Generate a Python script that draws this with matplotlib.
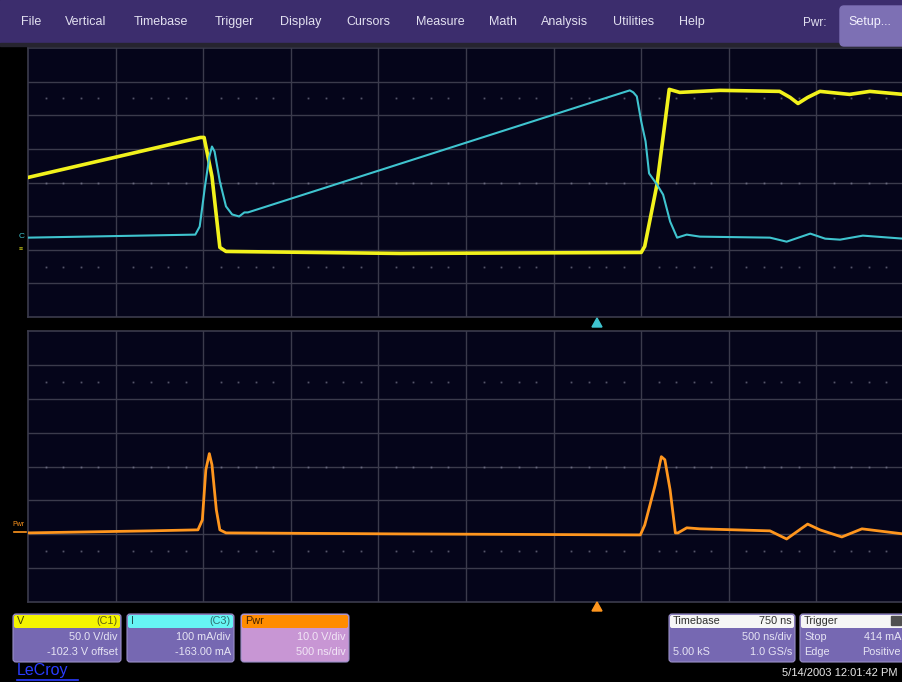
import matplotlib
matplotlib.use("Agg")
import matplotlib.pyplot as plt
from matplotlib.patches import FancyBboxPatch, Rectangle, Polygon

plt.rcParams['font.family'] = ['Liberation Sans', 'DejaVu Sans']

# ---------------- data (time and amplitude in screen divisions) ----------------
# C1 voltage trace (yellow), 50 V/div
v_t   = [0.00, 1.97, 2.01, 2.10, 2.19, 2.26, 4.25, 7.00, 7.04, 7.18, 7.32, 7.44,
         7.90, 8.58, 8.70, 8.79, 8.90, 9.04, 9.38, 9.61, 9.99]
v_div = [0.15, 1.34, 1.34, 0.18, -1.93, -2.05, -2.11, -2.08, -1.90, -0.06, 2.77, 2.68,
         2.74, 2.71, 2.53, 2.35, 2.53, 2.71, 2.62, 2.71, 2.62]

# C3 current trace (cyan), 100 mA/div
i_t   = [0.00, 1.91, 1.96, 2.02, 2.07, 2.10, 2.13, 2.19, 2.26, 2.33, 2.41, 2.47, 2.51,
         6.76, 6.87, 6.91, 6.95, 7.00, 7.05, 7.09, 7.18, 7.25, 7.33, 7.41, 7.52, 7.67,
         8.47, 8.66, 8.93, 9.10, 9.27, 9.53, 9.99]
i_div = [-1.64, -1.55, -1.31, -0.12, 0.77, 1.07, 0.92, 0.03, -0.71, -0.95, -1.01, -0.89, -0.89,
         2.65, 2.74, 2.68, 2.56, 1.82, 1.22, 0.27, -0.06, -0.36, -1.16, -1.64, -1.55, -1.61,
         -1.64, -1.76, -1.52, -1.67, -1.70, -1.58, -1.67]

# Pwr math trace (orange), 10.0 V/div
p_t   = [0.00, 1.39, 1.94, 1.99, 2.03, 2.07, 2.10, 2.15, 2.19, 2.26, 4.25, 6.99, 7.04,
         7.16, 7.23, 7.27, 7.33, 7.39, 7.42, 7.52, 7.67, 8.47, 8.66, 8.90, 9.04, 9.29,
         9.52, 9.99]
p_div = [-1.96, -1.90, -1.87, -1.58, -0.10, 0.38, 0.05, -1.28, -1.87, -1.96, -1.99, -2.02, -1.73,
         -0.54, 0.29, 0.20, -0.69, -1.96, -1.96, -1.81, -1.84, -1.90, -2.14, -1.70, -1.87, -2.08,
         -1.84, -1.99]

menu_labels = ["File", "Vertical", "Timebase", "Trigger", "Display", "Cursors",
               "Measure", "Math", "Analysis", "Utilities", "Help"]
c1_lines = ["V", "(C1)", "50.0 V/div", "-102.3 V offset"]
c3_lines = ["I", "(C3)", "100 mA/div", "-163.00 mA"]
pwr_lines = ["Pwr", "10.0 V/div", "500 ns/div"]
tb_lines = ["Timebase", "750 ns", "500 ns/div", "5.00 kS", "1.0 GS/s"]
trig_lines = ["Trigger", "Stop", "414 mA", "Edge", "Positive"]
date_text = "5/14/2003 12:01:42 PM"

# ---------------- layout ----------------
W, H = 903, 682
fig = plt.figure(figsize=(W / 100, H / 100), dpi=100, facecolor='black')

def px_axes(x0, y0, x1, y1):
    return fig.add_axes([x0 / W, 1 - y1 / H, (x1 - x0) / W, (y1 - y0) / H])

BG = '#05051a'
GRID = '#3b3b4c'
DOT = '#55556a'
XMAX = (903 - 28) / 87.6

def scope_panel(y0, y1):
    ax = px_axes(28, y0, 903, y1)
    ax.set_facecolor(BG)
    ax.set_xlim(0, XMAX)
    ax.set_ylim(-4, 4)
    ax.set_xticks([]); ax.set_yticks([])
    for s in ax.spines.values():
        s.set_color(GRID); s.set_linewidth(1.2)
    for k in range(1, 10):
        ax.axvline(k, color=GRID, lw=1.0, zorder=1)
    for k in range(-3, 4):
        ax.axhline(k, color=GRID, lw=1.0, zorder=1)
    xs = [k * 0.2 for k in range(50) if k % 5 != 0]
    for yy in (-2.5, 0, 2.5):
        ax.plot(xs, [yy] * len(xs), ls='none', marker='s', ms=1.3,
                color=DOT if yy != 0 else '#6a6a80', mew=0, zorder=1)
    return ax

top = scope_panel(48, 317)
top.plot(v_t, v_div, color='#f2f21c', lw=2.6, zorder=3, solid_joinstyle='round')
top.plot(i_t, i_div, color='#3fc4cf', lw=1.5, zorder=4, solid_joinstyle='round')

bot = scope_panel(331, 602)
bot.plot(p_t, p_div, color='#ff961e', lw=2.0, zorder=3, solid_joinstyle='round')

# ---------------- overlay decorations ----------------
ov = fig.add_axes([0, 0, 1, 1])
ov.set_xlim(0, W); ov.set_ylim(H, 0); ov.axis('off')

# menu bar
ov.add_patch(Rectangle((0, 0), W, 43, color='#3c2d6d', zorder=1))
ov.add_patch(Rectangle((0, 43), W, 3, color='#26242f', zorder=1))
ov.add_patch(FancyBboxPatch((840, 6), 80, 40, boxstyle='round,pad=0,rounding_size=4',
                            color='#7d70b4', zorder=2))
menu_x = [31, 86, 161, 234, 301, 368, 440, 503, 565, 634, 692]
for lab, x in zip(menu_labels, menu_x):
    ov.text(x, 22, lab, color='#e2e0f0', fontsize=9, ha='center', va='center')
ov.text(815, 23, "Pwr:", color='#e2e0f0', fontsize=8.5, ha='center', va='center')
ov.text(870, 22, "Setup...", color='#f4f2ff', fontsize=9, ha='center', va='center')

# ground markers / labels on the left
ov.text(22, 236, "C", color='#3fc4cf', fontsize=6, ha='center', va='center')
ov.text(21, 249, "≡", color='#d8d81a', fontsize=5, ha='center', va='center')
ov.text(18, 524, "Pwr", color='#ff961e', fontsize=5, ha='center', va='center')
ov.plot([14, 26], [532, 532], color='#ff961e', lw=1.2)

# trigger position arrows
ov.add_patch(Polygon([[592, 327], [602, 327], [597, 318]], color='#3fc4cf'))
ov.add_patch(Polygon([[592, 611], [602, 611], [597, 602]], color='#ff961e'))

def channel_box(x0, x1, head_color, body_color):
    y0, y1 = 614, 662
    ov.add_patch(FancyBboxPatch((x0, y0), x1 - x0, y1 - y0,
                                boxstyle='round,pad=0,rounding_size=3',
                                fc=body_color, ec='#9a90c8', lw=0.8, zorder=2))
    ov.add_patch(FancyBboxPatch((x0 + 1, y0 + 1), x1 - x0 - 2, 13,
                                boxstyle='round,pad=0,rounding_size=2',
                                fc=head_color, ec='none', zorder=3))

FS = 7.8
channel_box(13, 121, '#f4f400', '#7668b2')
ov.text(17, 621, c1_lines[0], color='#404000', fontsize=FS, va='center', zorder=4)
ov.text(118, 621, c1_lines[1], color='#606010', fontsize=FS, va='center', ha='right', zorder=4)
ov.text(118, 637, c1_lines[2], color='#e6e4f4', fontsize=FS, va='center', ha='right', zorder=4)
ov.text(118, 652, c1_lines[3], color='#e6e4f4', fontsize=FS, va='center', ha='right', zorder=4)

channel_box(127, 234, '#66f4f4', '#7668b2')
ov.text(131, 621, c3_lines[0], color='#205050', fontsize=FS, va='center', zorder=4)
ov.text(231, 621, c3_lines[1], color='#307070', fontsize=FS, va='center', ha='right', zorder=4)
ov.text(231, 637, c3_lines[2], color='#e6e4f4', fontsize=FS, va='center', ha='right', zorder=4)
ov.text(231, 652, c3_lines[3], color='#e6e4f4', fontsize=FS, va='center', ha='right', zorder=4)

channel_box(241, 349, '#ff8c00', '#c896d4')
ov.text(245, 621, pwr_lines[0], color='#402000', fontsize=FS, va='center', zorder=4)
ov.text(346, 637, pwr_lines[1], color='#f2e6f6', fontsize=FS, va='center', ha='right', zorder=4)
ov.text(346, 652, pwr_lines[2], color='#f2e6f6', fontsize=FS, va='center', ha='right', zorder=4)

channel_box(669, 795, '#f6f6f6', '#7668b2')
ov.text(673, 621, tb_lines[0], color='#303030', fontsize=FS, va='center', zorder=4)
ov.text(792, 621, tb_lines[1], color='#303030', fontsize=FS, va='center', ha='right', zorder=4)
ov.text(792, 637, tb_lines[2], color='#e6e4f4', fontsize=FS, va='center', ha='right', zorder=4)
ov.text(673, 652, tb_lines[3], color='#e6e4f4', fontsize=FS, va='center', zorder=4)
ov.text(792, 652, tb_lines[4], color='#e6e4f4', fontsize=FS, va='center', ha='right', zorder=4)

channel_box(800, 930, '#f6f6f6', '#7668b2')
ov.text(804, 621, trig_lines[0], color='#303030', fontsize=FS, va='center', zorder=4)
ov.add_patch(Rectangle((891, 616), 10, 9, color='#505050', zorder=4))
ov.text(804, 637, trig_lines[1], color='#e6e4f4', fontsize=FS, va='center', zorder=4)
ov.text(901, 637, trig_lines[2], color='#e6e4f4', fontsize=FS, va='center', ha='right', zorder=4)
ov.text(804, 652, trig_lines[3], color='#e6e4f4', fontsize=FS, va='center', zorder=4)
ov.text(901, 652, trig_lines[4], color='#e6e4f4', fontsize=FS, va='center', ha='right', zorder=4)

ov.text(898, 673, date_text, color='#e8e8e8', fontsize=8, va='center', ha='right')
ov.text(17, 671, "LeCroy", color='#2a3cff', fontsize=11.5, va='center', ha='left')
ov.plot([17, 78], [680, 680], color='#2a3cff', lw=1.2)

fig.savefig('out.png', dpi=100, facecolor='black')
